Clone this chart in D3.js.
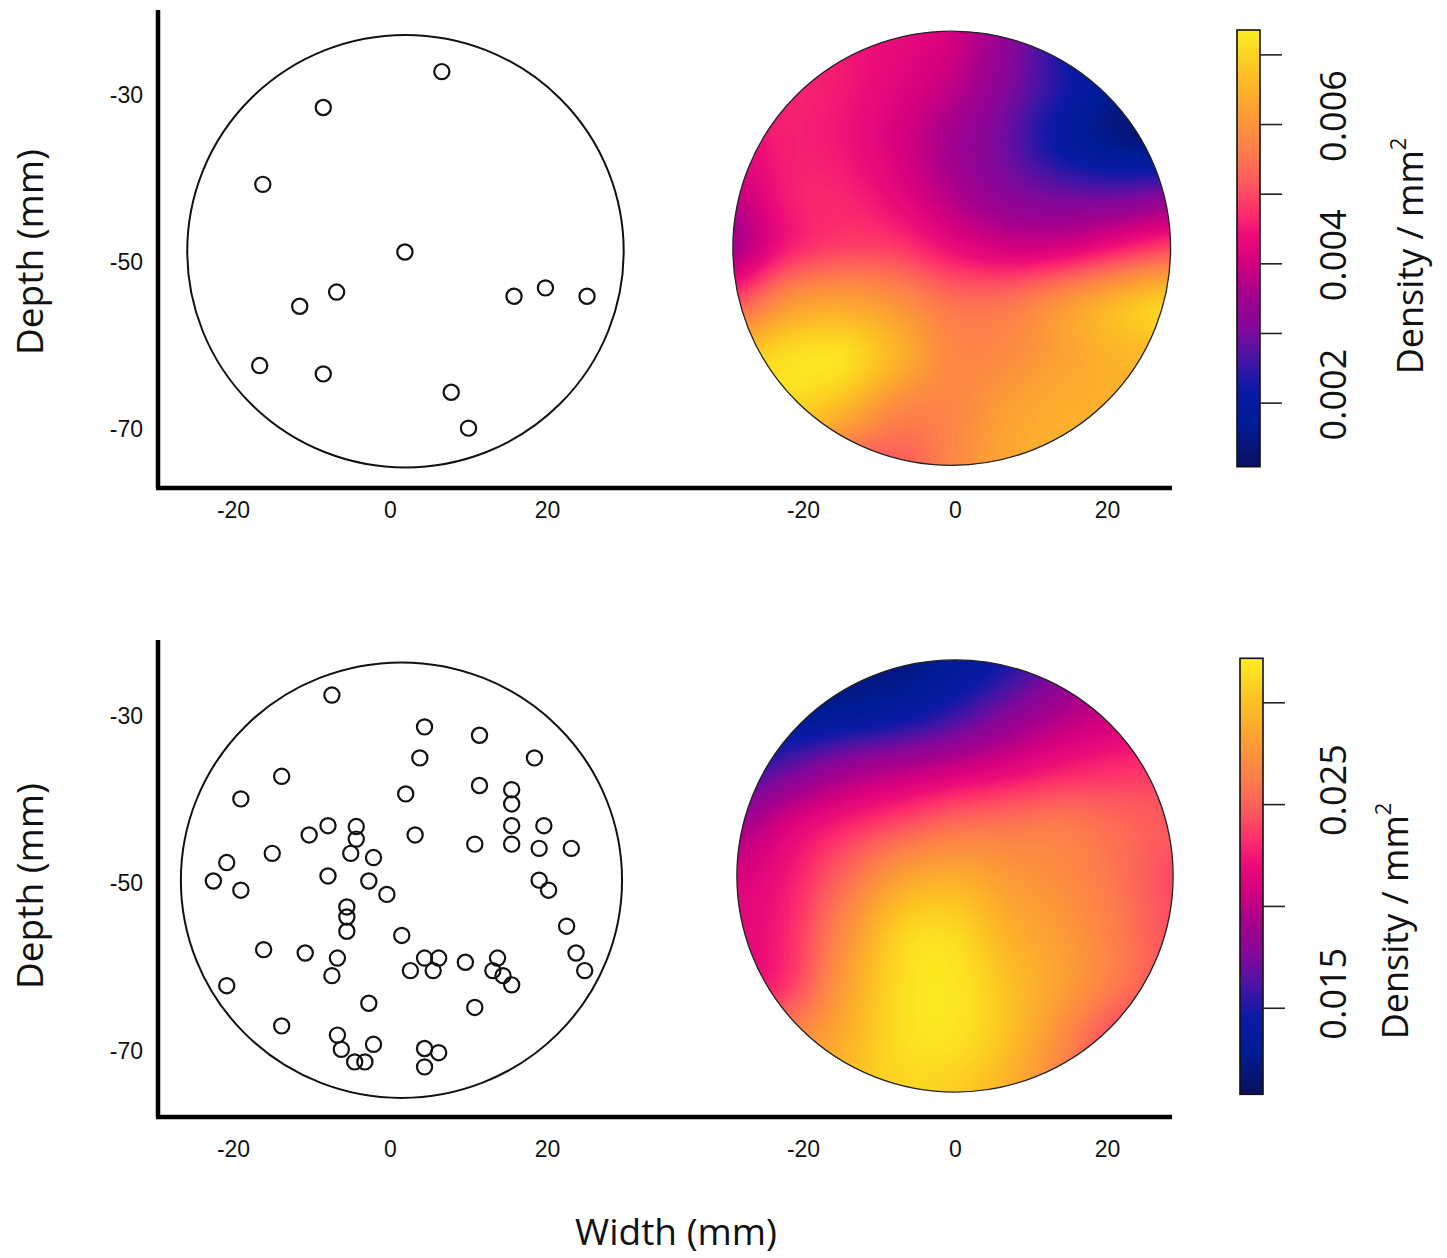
<!DOCTYPE html>
<html>
<head>
<meta charset="utf-8">
<script src="https://cdn.jsdelivr.net/npm/d3@7"></script>
<style>
  body { margin: 0; background: #fff; }
  svg { display: block; }
  .tick-label { font-family: "Liberation Sans", Arial, sans-serif; font-size: 23px; fill: #111; }
  .big-label { font-family: "Open Sans", sans-serif; fill: #111; }
</style>
</head>
<body>
<svg id="chart" width="1447" height="1258"></svg>
<script>
// ---- data (mm, density per mm^2) ----
const xTicks = [-20, 0, 20];
const yTicks = [-30, -50, -70];

// point pattern, upper row
const topPointsX = [6.6, -8.5, -16.2, 1.9, 19.8, 15.8, 25.1, -6.8, -11.5, -16.6, -8.5, 7.8, 10.0];
const topPointsY = [-27.2, -31.5, -40.7, -48.8, -53.1, -54.1, -54.1, -53.6, -55.3, -62.4, -63.4, -65.6, -69.9];

// point pattern, lower row
const bottomPointsX = [-7.4, -13.8, -19.0, -7.9, -10.3, -4.3, -4.3, -5.0, -2.1, -15.0,
  -20.8, -22.5, -19.0, -7.9, -2.7, -0.4, -5.5, -5.5, -5.5, -16.1,
  -10.8, -6.7, -7.4, -20.8, -2.7, -13.8, -6.7, -6.2, -2.1, -4.5,
  -3.2, 4.4, 11.4, 3.8, 18.4, 2.0, 11.4, 15.5, 15.5, 3.2,
  10.8, 15.5, 15.5, 19.6, 19.0, 23.1, 19.0, 20.2, 1.5, 22.5,
  4.4, 6.2, 2.6, 5.5, 9.6, 13.7, 13.1, 14.4, 15.5, 23.7,
  24.8, 10.8, 4.4, 6.2, 4.4];
const bottomPointsY = [-27.5, -37.2, -39.9, -43.1, -44.2, -43.2, -44.7, -46.4, -46.9, -46.4,
  -47.5, -49.7, -50.8, -49.1, -49.7, -51.3, -52.8, -54.0, -55.7, -57.9,
  -58.3, -58.9, -61.0, -62.2, -64.3, -67.0, -68.1, -69.8, -69.2, -71.3,
  -71.3, -31.3, -32.3, -35.0, -35.0, -39.3, -38.3, -38.8, -40.5, -44.2,
  -45.3, -43.1, -45.3, -43.1, -45.8, -45.8, -49.6, -50.8, -56.2, -55.1,
  -58.9, -58.9, -60.4, -60.4, -59.4, -58.9, -60.4, -61.0, -62.1, -58.3,
  -60.4, -64.8, -69.7, -70.2, -71.9];

// study regions: [upper points, upper density, lower points, lower density]
const regionCx = [1.97, -0.43, 1.46, 0.0];
const regionCy = [-48.7, -48.35, -49.6, -49.1];
const regionRx = [27.8, 28.8, 28.1, 28.7];
const regionRy = [25.9, 26.0, 26.0, 25.8];

// density surface, upper row (read on a 9 x 9 grid)
const topGridX = [-29.2, -22.0, -14.8, -7.6, -0.4, 6.8, 14.0, 21.2, 28.4];
const topGridY = [-22.4, -28.9, -35.4, -41.9, -48.4, -54.9, -61.4, -67.9, -74.4];
const topDensity = [
  [0.00459, 0.00459, 0.00453, 0.00434, 0.00409, 0.00327, 0.00221, 0.00152, 0.00127],
  [0.00465, 0.00465, 0.00453, 0.00422, 0.00384, 0.00309, 0.00233, 0.00158, 0.00133],
  [0.00434, 0.00459, 0.00447, 0.00409, 0.00346, 0.00284, 0.00196, 0.00139, 0.00121],
  [0.00384, 0.00459, 0.00465, 0.00428, 0.00365, 0.00315, 0.00290, 0.00284, 0.00309],
  [0.00346, 0.00453, 0.00490, 0.00484, 0.00434, 0.00403, 0.00409, 0.00453, 0.00497],
  [0.00497, 0.00610, 0.00635, 0.00603, 0.00547, 0.00553, 0.00610, 0.00672, 0.00716],
  [0.00691, 0.00723, 0.00729, 0.00660, 0.00578, 0.00585, 0.00622, 0.00653, 0.00660],
  [0.00704, 0.00704, 0.00660, 0.00572, 0.00572, 0.00622, 0.00647, 0.00647, 0.00647],
  [0.00672, 0.00635, 0.00522, 0.00509, 0.00578, 0.00635, 0.00647, 0.00647, 0.00647]
];
const topDomain = [0.00108, 0.00735];
const topBarTicks = [0.002, 0.003, 0.004, 0.005, 0.006, 0.007];
const topBarLabels = ['0.002', '0.004', '0.006'];

// density surface, lower row
const bottomGridX = [-28.7, -21.5, -14.4, -7.2, 0, 7.2, 14.4, 21.5, 28.7];
const bottomGridY = [-23.3, -29.8, -36.2, -42.7, -49.1, -55.6, -62.0, -68.5, -74.9];
const bottomDensity = [
  [0.01185, 0.01185, 0.01164, 0.01185, 0.01292, 0.01463, 0.01719, 0.01933, 0.02040],
  [0.01206, 0.01249, 0.01292, 0.01377, 0.01548, 0.01784, 0.01955, 0.02061, 0.02147],
  [0.01506, 0.01677, 0.01869, 0.01976, 0.02061, 0.02147, 0.02254, 0.02318, 0.02361],
  [0.01890, 0.02126, 0.02275, 0.02404, 0.02532, 0.02575, 0.02617, 0.02532, 0.02468],
  [0.02104, 0.02254, 0.02532, 0.02831, 0.02917, 0.02788, 0.02703, 0.02575, 0.02404],
  [0.02147, 0.02297, 0.02724, 0.03109, 0.03130, 0.02917, 0.02788, 0.02617, 0.02425],
  [0.02168, 0.02339, 0.02831, 0.03152, 0.03195, 0.03002, 0.02831, 0.02617, 0.02404],
  [0.02404, 0.02681, 0.02917, 0.03152, 0.03173, 0.03002, 0.02703, 0.02361, 0.02254],
  [0.02575, 0.02788, 0.03002, 0.03109, 0.03066, 0.02917, 0.02617, 0.02318, 0.02147]
];
const bottomDomain = [0.01075, 0.03216];
const bottomBarTicks = [0.015, 0.020, 0.025, 0.030];
const bottomBarLabels = ['0.015', '0.025'];

// colour ramp (fraction of the colour bar -> colour)
const paletteStops = [0, 0.1, 0.18, 0.25, 0.32, 0.4, 0.47, 0.53, 0.58, 0.65, 0.72, 0.8, 0.9, 1];
const paletteColours = ['#0a0f60', '#001c96', '#0c1aa6', '#4a14a4', '#84089a', '#a8008c', '#d4007e',
  '#ec0c78', '#fc2c6c', '#fd5a5e', '#fd7c4c', '#fc9a38', '#fcc024', '#fcee20'];

// ---- drawing ----
const svg = d3.select('#chart');
const defs = svg.append('defs');

const xLeft = d3.scaleLinear().domain([-20, 20]).range([233, 547]);
const xRight = d3.scaleLinear().domain([-20, 20]).range([803, 1107]);

const rows = [
  {
    y: d3.scaleLinear().domain([-30, -70]).range([95, 429]),
    axisY: 488, axisTop: 10, xLabelPad: 14, labelY: 252,
    px: topPointsX, py: topPointsY, left: 0, right: 1,
    gridX: topGridX, gridY: topGridY, density: topDensity, domain: topDomain,
    barX: 1237, barTop: 30, barBottom: 466.7, barTicks: topBarTicks, barLabels: topBarLabels,
    labelShift: -8, titleX: 1423, titleY: 256
  },
  {
    y: d3.scaleLinear().domain([-30, -70]).range([716, 1051]),
    axisY: 1117, axisTop: 640, xLabelPad: 24, labelY: 886,
    px: bottomPointsX, py: bottomPointsY, left: 2, right: 3,
    gridX: bottomGridX, gridY: bottomGridY, density: bottomDensity, domain: bottomDomain,
    barX: 1240, barTop: 658.3, barBottom: 1094.3, barTicks: bottomBarTicks, barLabels: bottomBarLabels,
    labelShift: -14, titleX: 1408, titleY: 921
  }
];

function regionEllipse(g, k, xs, ys) {
  return g.append('ellipse')
    .attr('cx', xs(regionCx[k]))
    .attr('cy', ys(regionCy[k]))
    .attr('rx', xs(regionCx[k] + regionRx[k]) - xs(regionCx[k]))
    .attr('ry', ys(regionCy[k] - regionRy[k]) - ys(regionCy[k]));
}

function drawDensity(g, row, xs, colour, clipId) {
  const n = row.gridX.length;
  const m = row.gridY.length;
  const x0 = xs(row.gridX[0]);
  const x1 = xs(row.gridX[n - 1]);
  const y0 = row.y(row.gridY[0]);
  const y1 = row.y(row.gridY[m - 1]);
  const W = Math.round(x1 - x0);
  const H = Math.round(y1 - y0);
  const norm = d3.scaleLinear().domain(row.domain).range([0, 255]).clamp(true);

  // grey-level grid, scaled up by the canvas, then coloured
  const small = document.createElement('canvas');
  small.width = n;
  small.height = m;
  const sctx = small.getContext('2d');
  const simg = sctx.createImageData(n, m);
  row.density.forEach((r, j) => r.forEach((v, i) => {
    const k = (j * n + i) * 4;
    const gv = Math.round(norm(v));
    simg.data[k] = simg.data[k + 1] = simg.data[k + 2] = gv;
    simg.data[k + 3] = 255;
  }));
  sctx.putImageData(simg, 0, 0);

  const big = document.createElement('canvas');
  big.width = W;
  big.height = H;
  const bctx = big.getContext('2d');
  bctx.imageSmoothingEnabled = true;
  bctx.imageSmoothingQuality = 'high';
  const cw = W / (n - 1);
  const ch = H / (m - 1);
  bctx.drawImage(small, -cw / 2, -ch / 2, W + cw, H + ch);

  const lut = d3.range(256).map((k) => d3.rgb(colour(norm.invert(k))));
  const out = bctx.getImageData(0, 0, W, H);
  for (let k = 0; k < out.data.length; k += 4) {
    const c = lut[out.data[k]];
    out.data[k] = c.r;
    out.data[k + 1] = c.g;
    out.data[k + 2] = c.b;
    out.data[k + 3] = 255;
  }
  bctx.putImageData(out, 0, 0);

  g.append('image')
    .attr('href', big.toDataURL())
    .attr('x', x0)
    .attr('y', y0)
    .attr('width', W)
    .attr('height', H)
    .attr('preserveAspectRatio', 'none')
    .attr('clip-path', `url(#${clipId})`);
}

rows.forEach((row, ri) => {
  const g = svg.append('g');
  const [d0, d1] = row.domain;
  const colour = d3.scaleLinear()
    .domain(paletteStops.map((t) => d0 + t * (d1 - d0)))
    .range(paletteColours)
    .clamp(true);

  // point pattern
  regionEllipse(g, row.left, xLeft, row.y)
    .attr('fill', 'none')
    .attr('stroke', '#111')
    .attr('stroke-width', 2);

  g.append('g')
    .selectAll('circle')
    .data(row.px.map((x, i) => [x, row.py[i]]))
    .join('circle')
    .attr('cx', (d) => xLeft(d[0]))
    .attr('cy', (d) => row.y(d[1]))
    .attr('r', 7.6)
    .attr('fill', 'none')
    .attr('stroke', '#111')
    .attr('stroke-width', 2.2);

  // density surface
  const clipId = `clip${ri}`;
  regionEllipse(defs.append('clipPath').attr('id', clipId), row.right, xRight, row.y);
  drawDensity(g, row, xRight, colour, clipId);
  regionEllipse(g, row.right, xRight, row.y)
    .attr('fill', 'none')
    .attr('stroke', '#222')
    .attr('stroke-width', 1.3);

  // axes (plain hyphen for negatives)
  const fmt = (d) => String(d);
  const xAxisLeft = g.append('g')
    .attr('transform', `translate(0,${row.axisY})`)
    .call(d3.axisBottom(xLeft).tickValues(xTicks).tickSize(0).tickPadding(row.xLabelPad).tickFormat(fmt));
  const xAxisRight = g.append('g')
    .attr('transform', `translate(0,${row.axisY})`)
    .call(d3.axisBottom(xRight).tickValues(xTicks).tickSize(0).tickPadding(row.xLabelPad).tickFormat(fmt));
  const yAxis = g.append('g')
    .attr('transform', 'translate(158,0)')
    .call(d3.axisLeft(row.y).tickValues(yTicks).tickSize(0).tickPadding(15).tickFormat(fmt));
  [xAxisLeft, xAxisRight, yAxis].forEach((a) => {
    a.select('.domain').remove();
    a.selectAll('text').attr('class', 'tick-label').attr('font-family', null).attr('font-size', null);
  });

  g.append('path')
    .attr('d', `M158,${row.axisTop}V${row.axisY}M156,${row.axisY}H1172`)
    .attr('fill', 'none')
    .attr('stroke', '#000')
    .attr('stroke-width', 4.5);

  g.append('text')
    .attr('class', 'big-label')
    .attr('font-size', 37)
    .attr('text-anchor', 'middle')
    .attr('transform', `translate(43,${row.labelY}) rotate(-90)`)
    .text('Depth (mm)');

  // colour bar
  const gradId = `grad${ri}`;
  const grad = defs.append('linearGradient')
    .attr('id', gradId)
    .attr('x1', 0).attr('y1', 1).attr('x2', 0).attr('y2', 0);
  grad.selectAll('stop')
    .data(paletteStops)
    .join('stop')
    .attr('offset', (d) => d)
    .attr('stop-color', (d, i) => paletteColours[i]);

  const bar = d3.scaleLinear().domain(row.domain).range([row.barBottom, row.barTop]);
  const barW = 23;
  g.append('rect')
    .attr('x', row.barX)
    .attr('y', bar(d1))
    .attr('width', barW)
    .attr('height', bar(d0) - bar(d1))
    .attr('fill', `url(#${gradId})`)
    .attr('stroke', '#111')
    .attr('stroke-width', 1.6);

  const barAxis = g.append('g')
    .attr('transform', `translate(${row.barX + barW},0)`)
    .call(d3.axisRight(bar).tickValues(row.barTicks).tickSize(22).tickFormat(''));
  barAxis.select('.domain').remove();
  barAxis.selectAll('line').attr('stroke', '#222').attr('stroke-width', 1.6);

  g.append('g')
    .selectAll('text')
    .data(row.barLabels)
    .join('text')
    .attr('class', 'big-label')
    .attr('font-size', 36)
    .attr('text-anchor', 'middle')
    .attr('transform', (d) => `translate(1346,${bar(+d) + row.labelShift}) rotate(-90)`)
    .text((d) => d);

  const title = g.append('text')
    .attr('class', 'big-label')
    .attr('font-size', 36)
    .attr('text-anchor', 'middle')
    .attr('transform', `translate(${row.titleX},${row.titleY}) rotate(-90)`);
  title.append('tspan').text('Density / mm');
  title.append('tspan').attr('font-size', 22).attr('dy', -17).text('2');
});

svg.append('text')
  .attr('class', 'big-label')
  .attr('font-size', 37)
  .attr('text-anchor', 'middle')
  .attr('x', 676)
  .attr('y', 1245)
  .text('Width (mm)');
</script>
</body>
</html>
